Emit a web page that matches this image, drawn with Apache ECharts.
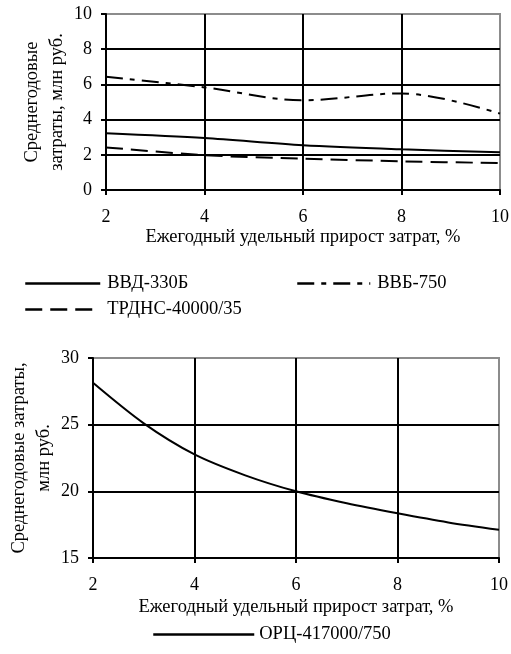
<!DOCTYPE html>
<html>
<head>
<meta charset="utf-8">
<script src="https://cdn.jsdelivr.net/npm/echarts@6/dist/echarts.min.js"></script>
<style>
  html, body { margin: 0; padding: 0; background: #fff; }
  #chart { width: 511px; height: 654px; }
</style>
</head>
<body>
<div id="chart"></div>
<script>
// x values (annual specific cost growth, %)
const growth = [2, 4, 6, 8, 10];
const growthFine = [2, 3, 4, 5, 6, 7, 8, 9, 10];

// top chart series, mln rub
const vvd330 = [3.22, 2.95, 2.54, 2.31, 2.15];
const vvb750 = [6.43, 5.83, 5.1, 5.49, 4.34];
const trdns = [2.42, 1.98, 1.78, 1.63, 1.53];

// bottom chart series, mln rub
const orc = [28.14, 25.1, 22.77, 21.2, 20.0, 19.1, 18.35, 17.67, 17.12];

const font = 'Liberation Serif';

const pairs = (xs, ys) => xs.map((x, i) => [x, ys[i]]);

function xAxis(gridIndex, gap) {
  return {
    type: 'value', gridIndex, min: 2, max: 10, interval: 2,
    name: 'Ежегодный удельный прирост затрат, %',
    nameLocation: 'middle', nameGap: gap,
    nameTextStyle: { fontFamily: font, fontSize: 18.5, color: '#000' },
    axisLine: { lineStyle: { color: '#000', width: 2 } },
    axisTick: { show: true, length: 5, lineStyle: { color: '#000', width: 2 } },
    axisLabel: { fontFamily: font, fontSize: 18, color: '#000', margin: 18 },
    splitLine: { show: true, showMinLine: false, showMaxLine: false, lineStyle: { color: '#000', width: 2 } }
  };
}

function yAxis(gridIndex, min, max, interval, name, gap) {
  return {
    type: 'value', gridIndex, min, max, interval,
    name, nameLocation: 'middle', nameGap: gap, nameRotate: 90, nameMoveOverlap: false,
    nameTextStyle: { fontFamily: font, fontSize: 18.5, color: '#000', lineHeight: 25 },
    axisLine: { show: true, lineStyle: { color: '#000', width: 2 } },
    axisTick: { show: true, length: 5, lineStyle: { color: '#000', width: 2 } },
    axisLabel: { fontFamily: font, fontSize: 18, color: '#000', margin: 14 },
    splitLine: { show: true, showMinLine: false, showMaxLine: false, lineStyle: { color: '#000', width: 2 } }
  };
}

function legend(name, left, top, width, textPad) {
  return {
    data: [name], left, top,
    itemWidth: width, itemHeight: 14, itemGap: 0,
    itemStyle: { opacity: 0 },
    lineStyle: { width: 2.5 },
    textStyle: { fontFamily: font, fontSize: 18.5, color: '#000', padding: [0, 0, 0, textPad] }
  };
}

const chart = echarts.init(document.getElementById('chart'));

chart.setOption({
  backgroundColor: '#fff',
  animation: false,
  grid: [
    { left: 106, right: 11, top: 14, bottom: 464, outerBoundsMode: 'none', containLabel: false,
      show: true, borderColor: '#8c8c8c', borderWidth: 2 },
    { left: 93, right: 12, top: 358, bottom: 96, outerBoundsMode: 'none', containLabel: false,
      show: true, borderColor: '#8c8c8c', borderWidth: 2 }
  ],
  xAxis: [xAxis(0, 38), xAxis(1, 40)],
  yAxis: [
    yAxis(0, 0, 10, 2, 'Среднегодовые\nзатраты, млн руб.', 36),
    yAxis(1, 15, 30, 5, 'Среднегодовые затраты,\nмлн руб.', 36)
  ],
  legend: [
    legend('ВВД-330Б', 19, 269, 75, 2),
    legend('ВВБ-750', 291, 269, 73, 2),
    legend('ТРДНС-40000/35', 19, 295, 75, 2),
    legend('ОРЦ-417000/750', 147, 620, 101, 0)
  ],
  series: [
    {
      name: 'ВВД-330Б', type: 'line', xAxisIndex: 0, yAxisIndex: 0,
      data: pairs(growth, vvd330), smooth: 0.3, symbol: 'none',
      lineStyle: { color: '#000', width: 2, type: 'solid' }, itemStyle: { color: '#000' }
    },
    {
      name: 'ВВБ-750', type: 'line', xAxisIndex: 0, yAxisIndex: 0,
      data: pairs(growth, vvb750), smooth: 0.35, symbol: 'none',
      lineStyle: { color: '#000', width: 2, type: [17, 7, 5, 7] }, itemStyle: { color: '#000' }
    },
    {
      name: 'ТРДНС-40000/35', type: 'line', xAxisIndex: 0, yAxisIndex: 0,
      data: pairs(growth, trdns), smooth: 0.3, symbol: 'none',
      lineStyle: { color: '#000', width: 2, type: [17, 8] }, itemStyle: { color: '#000' }
    },
    {
      name: 'ОРЦ-417000/750', type: 'line', xAxisIndex: 1, yAxisIndex: 1,
      data: pairs(growthFine, orc), smooth: 0.3, symbol: 'none',
      lineStyle: { color: '#000', width: 2 }, itemStyle: { color: '#000' }
    }
  ]
});
</script>
</body>
</html>
